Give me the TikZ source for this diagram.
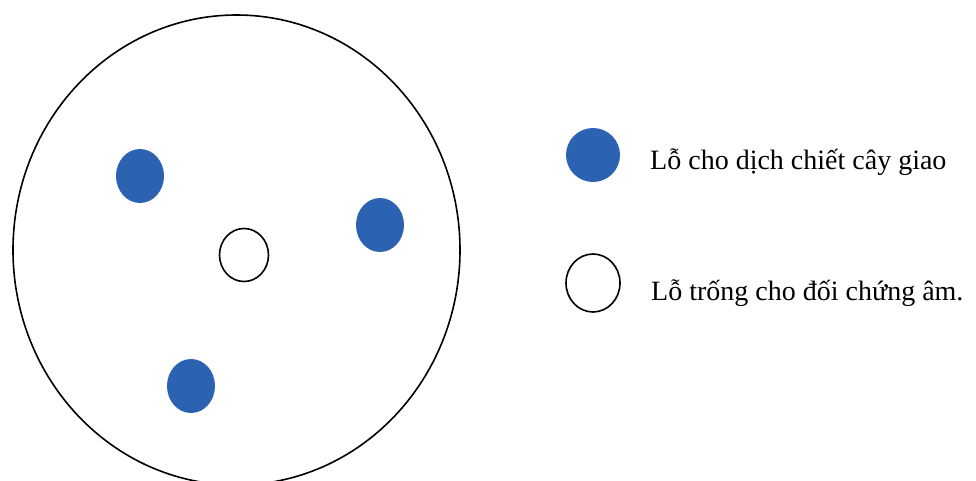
\documentclass[tikz,border=0pt]{standalone}
\usepackage{fontspec}
\setmainfont{Liberation Serif}
\usetikzlibrary{shapes.geometric,positioning}
\definecolor{holeblue}{HTML}{2C62B2}

\begin{document}
\begin{tikzpicture}[x=1pt, y=-1pt,
  dish/.style={draw=black, line width=1.6pt, ellipse, inner sep=0pt, minimum width=447pt, minimum height=470pt},
  hole/.style={fill=holeblue, ellipse, inner sep=0pt, minimum width=48pt, minimum height=54pt},
  blank/.style={draw=black, line width=1.6pt, ellipse, inner sep=0pt, minimum width=49pt, minimum height=53pt},
  legtext/.style={anchor=base west, font=\fontsize{28}{31}\selectfont, inner sep=0pt}
]
\useasboundingbox (0,0) rectangle (976,481);
% dish with wells
\node[dish] (plate) at (236.5,250) {};
\node[hole] (h1) at (140,176) {};
\node[hole] (h2) at (380,225) {};
\node[hole] (h3) at (191,386) {};
\node[blank] (c0) at (244,255) {};
% legend
\node[hole, minimum width=54pt, minimum height=54pt] (k1) at (593,155) {};
\node[blank, minimum width=54pt, minimum height=58pt] (k2) at (593,283) {};
\node[legtext] (t1) at (650,170) {Lỗ cho dịch chiết cây giao};
\node[legtext] (t2) at (651,300) {Lỗ trống cho đối chứng âm.};
\end{tikzpicture}
\end{document}
